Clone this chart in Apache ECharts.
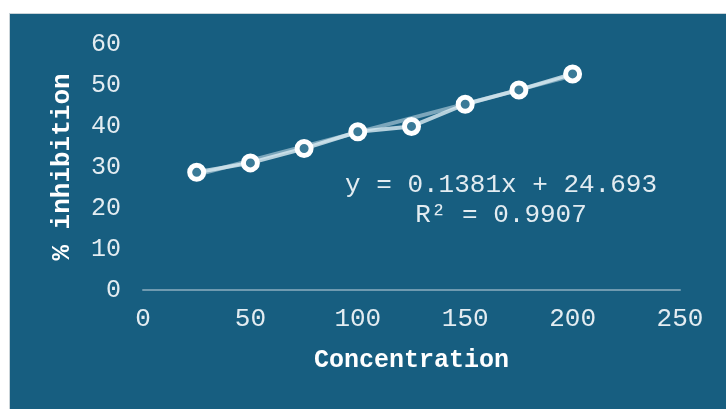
<!DOCTYPE html>
<html>
<head>
<meta charset="utf-8">
<script src="https://cdn.jsdelivr.net/npm/echarts@6/dist/echarts.min.js"></script>
<style>
html,body{margin:0;padding:0;background:#ffffff;}
#bg{position:absolute;left:9px;top:13px;width:717px;height:396px;background:#175e80;border-left:1px solid #c9d3d8;border-top:1px solid #c9d3d8;box-sizing:border-box;}
#chart{position:absolute;left:0;top:0;width:726px;height:409px;}
</style>
</head>
<body>
<div id="bg"></div>
<div id="chart"></div>
<script>
// Data
const concentration = [25, 50, 75, 100, 125, 150, 175, 200];
const inhibition = [28.7, 31.0, 34.5, 38.6, 39.9, 45.3, 48.8, 52.7];
// Linear trendline endpoints (as seen in the picture)
const trendX = [25, 200];
const trendY = [28.1, 52.3];
const xTicks = { min: 0, max: 250, interval: 50 };
const yTicks = { min: 0, max: 60, interval: 10 };
const equationText = 'y = 0.1381x + 24.693';
const r2Text = 'R\u00b2 = 0.9907';
const xTitle = 'Concentration';
const yTitle = '% inhibition';

const FONT = "'Liberation Mono','Courier New',monospace";
const chart = echarts.init(document.getElementById('chart'));
chart.setOption({
  backgroundColor: 'transparent',
  animation: false,
  grid: { left: 143, right: 46, top: 44, bottom: 119 },
  xAxis: {
    type: 'value', min: xTicks.min, max: xTicks.max, interval: xTicks.interval,
    name: xTitle, nameLocation: 'middle', nameGap: 58,
    nameTextStyle: { color: '#ffffff', fontFamily: FONT, fontSize: 25, fontWeight: 'bold' },
    axisLine: { show: true, lineStyle: { color: '#6f9ab0', width: 2 } },
    axisTick: { show: false },
    splitLine: { show: false },
    axisLabel: { color: '#e3ecf1', fontFamily: FONT, fontSize: 26, margin: 16 }
  },
  yAxis: {
    type: 'value', min: yTicks.min, max: yTicks.max, interval: yTicks.interval,
    name: yTitle, nameLocation: 'middle', nameGap: 68, nameRotate: 90,
    nameTextStyle: { color: '#ffffff', fontFamily: FONT, fontSize: 26, fontWeight: 'bold' },
    axisLine: { show: false },
    axisTick: { show: false },
    splitLine: { show: false },
    axisLabel: { color: '#e3ecf1', fontFamily: FONT, fontSize: 25, margin: 22 }
  },
  series: [
    {
      type: 'line',
      data: trendX.map((x, i) => [x, trendY[i]]),
      symbol: 'none',
      lineStyle: { color: 'rgba(205,225,235,0.55)', width: 4 },
      z: 1
    },
    {
      type: 'line',
      data: concentration.map((x, i) => [x, inhibition[i]]),
      symbol: 'circle', symbolSize: 14,
      lineStyle: { color: 'rgba(220,236,243,0.8)', width: 4 },
      itemStyle: { color: '#3a7a97', borderColor: '#ffffff', borderWidth: 5 },
      z: 2
    }
  ],
  graphic: [
    { type: 'text', x: 501, y: 185, z: 10,
      style: { text: equationText, fill: '#e3ecf1', font: "26px " + FONT, textAlign: 'center', textVerticalAlign: 'middle' } },
    { type: 'text', x: 501, y: 215, z: 10,
      style: { text: r2Text, fill: '#e3ecf1', font: "26px " + FONT, textAlign: 'center', textVerticalAlign: 'middle' } }
  ]
});
</script>
</body>
</html>
